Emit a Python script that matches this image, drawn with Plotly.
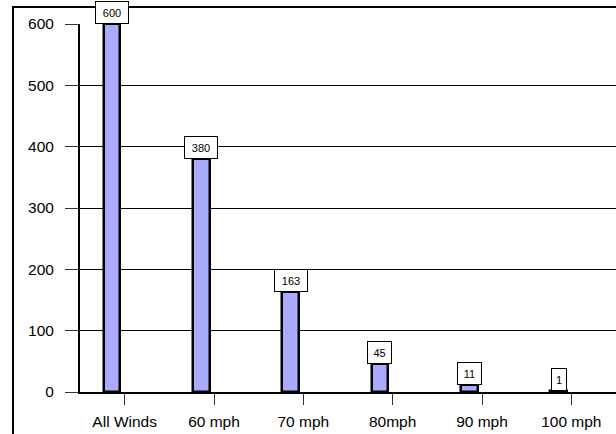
import plotly.graph_objects as go

# Counts by wind-speed threshold
categories = ["All Winds", "60 mph", "70 mph", "80mph", "90 mph", "100 mph"]
counts = [600, 380, 163, 45, 11, 1]
y_ticks = [0, 100, 200, 300, 400, 500, 600]

FONT = "Arial, Liberation Sans, sans-serif"
BAR_SHIFT = -0.142   # bars sit just left of each category tick
BAR_WIDTH = 0.185

idx = list(range(len(categories)))
bar_x = [i + BAR_SHIFT for i in idx]

fig = go.Figure()
fig.add_trace(go.Bar(
    x=bar_x,
    y=counts,
    width=BAR_WIDTH,
    marker=dict(color="#AAAAFF", line=dict(color="black", width=2.5)),
    hoverinfo="skip",
))

# Boxed value labels sitting on top of each bar
for xv, v in zip(bar_x, counts):
    txt = str(v)
    fig.add_annotation(
        x=xv, y=v, xref="x", yref="y",
        text=txt, showarrow=False,
        yanchor="bottom", xanchor="center", valign="middle",
        font=dict(family=FONT, size=11, color="black"),
        bgcolor="white", bordercolor="black", borderwidth=1, borderpad=1,
        width=9 * len(txt) + 3, height=19,
    )

# Outer chart frame (extends past the right and bottom edges)
fig.add_shape(
    type="rect", xref="paper", yref="paper",
    x0=(13 - 80) / 536, x1=1.2, y0=-0.5, y1=(392 - 7) / 368,
    line=dict(color="black", width=2), fillcolor="rgba(0,0,0,0)",
    layer="above",
)

fig.update_layout(
    width=616, height=434,
    margin=dict(l=80, r=0, t=24, b=42),
    paper_bgcolor="white", plot_bgcolor="white",
    showlegend=False,
    font=dict(family=FONT, size=15, color="black"),
    bargap=0,
)
fig.update_xaxes(
    range=[-0.5, 5.5],
    tickvals=idx, ticktext=categories,
    ticks="outside", ticklen=11, tickwidth=1, tickcolor="#333333",
    showgrid=False, zeroline=False,
    showline=True, linecolor="black", linewidth=2,
    tickfont=dict(family=FONT, size=15.5, color="black"),
    ticklabelstandoff=3,
)
fig.update_yaxes(
    range=[0, 600],
    tickvals=y_ticks,
    ticks="outside", ticklen=13, tickwidth=1, tickcolor="#333333",
    showgrid=True, gridcolor="black", gridwidth=1,
    zeroline=False,
    showline=True, linecolor="black", linewidth=2,
    tickfont=dict(family=FONT, size=15.5, color="black"),
    ticklabelstandoff=8,
)

fig.write_html("out.html")
